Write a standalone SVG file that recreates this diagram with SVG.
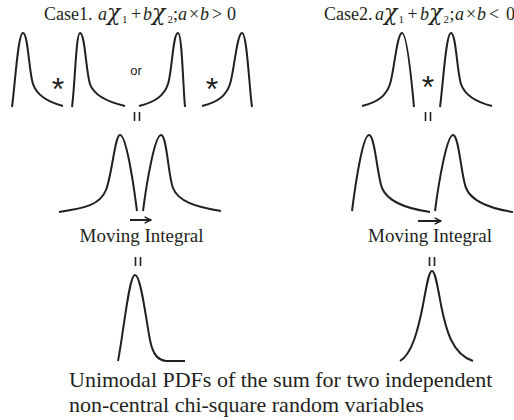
<svg xmlns="http://www.w3.org/2000/svg" width="514" height="420" viewBox="0 0 514 420">
<style>
.c{fill:none;stroke:#231f20;stroke-width:2;stroke-linecap:butt;stroke-linejoin:round}
.eq{stroke:#231f20;stroke-width:1.6}
.ar{fill:none;stroke:#231f20;stroke-width:2}
.t{font-family:"Liberation Serif","Times New Roman",serif;fill:#231f20}
.i{font-style:italic}
.chi{font-family:"DejaVu Serif","Liberation Serif",serif;font-style:italic;font-size:22px}
.sub{font-size:11px}
.s{font-family:"Liberation Sans",Arial,sans-serif;fill:#231f20}
</style>
<defs>
<marker id="ah" viewBox="0 0 10 10" refX="9" refY="5" markerWidth="8" markerHeight="8" markerUnits="userSpaceOnUse" orient="auto">
<path d="M1,1 L9,5 L1,9" fill="none" stroke="#231f20" stroke-width="1.8"/>
</marker>
</defs>
<g id="title1" class="t" font-size="18">
<text y="19.5"><tspan x="98" class="i">a</tspan><tspan x="44">Case1.</tspan><tspan x="107" class="chi">χ</tspan><tspan x="122" y="23" class="sub">1</tspan><tspan x="131" y="19.5">+</tspan><tspan x="143" class="i">b</tspan><tspan x="152" class="chi">χ</tspan><tspan x="167.5" y="23" class="sub">2</tspan><tspan x="173" y="19.5">;</tspan><tspan x="178" class="i">a</tspan><tspan x="189">×</tspan><tspan x="200" class="i">b</tspan><tspan x="212">&gt;</tspan><tspan x="227">0</tspan></text>
</g>
<g id="title2" class="t" font-size="18">
<text y="19.5"><tspan x="324">Case2.</tspan><tspan x="375" class="i">a</tspan><tspan x="384" class="chi">χ</tspan><tspan x="398.5" y="23" class="sub">1</tspan><tspan x="407.5" y="19.5">+</tspan><tspan x="420" class="i">b</tspan><tspan x="429" class="chi">χ</tspan><tspan x="443.5" y="23" class="sub">2</tspan><tspan x="449.5" y="19.5">;</tspan><tspan x="455" class="i">a</tspan><tspan x="466">×</tspan><tspan x="477" class="i">b</tspan><tspan x="489">&lt;</tspan><tspan x="506">0</tspan></text>
</g>
<g id="case1-inputs">
<path class="c" d="M12,107 C15,85 18,33 23,33 C28,33 29,72 33,84 C37,96 48,102 63,106"/>
<path class="c" d="M72,107 C75,85 76,33 80,33 C85,33 86,72 90,84 C94,96 108,102 125,106"/>
<path class="c" d="M139,106 C155,102 164,96 168,84 C172,72 173,33 178,33 C182,33 183,85 185,107"/>
<path class="c" d="M202,106 C218,102 226,96 230,84 C234,72 237,33 242,33 C247,33 249,85 252,107"/>
<text class="s" x="58" y="100" font-size="32" text-anchor="middle">*</text>
<text class="s" x="136" y="75" font-size="13" text-anchor="middle">or</text>
<text class="s" x="212" y="100" font-size="32" text-anchor="middle">*</text>
</g>
<g id="case2-inputs">
<path class="c" d="M362,106 C378,102 386,96 390,84 C394,72 397,33 402,33 C407,33 412,85 414,107"/>
<path class="c" d="M440,107 C443,85 446,33 451,33 C456,33 457,72 461,84 C465,96 476,102 492,106"/>
<text class="s" x="428" y="98" font-size="32" text-anchor="middle">*</text>
</g>
<g id="case1-moving">
<path class="c" d="M59,212 C85,208 100,205 106,190 C112,175 115,135 120,135 C126,135 133,180 137,211"/>
<path class="c" d="M143,211 C147,180 155,135 161,135 C167,135 168,175 173,188 C178,201 195,207 221,211"/>
<text class="t" x="141.5" y="242" font-size="19" text-anchor="middle">Moving Integral</text>
</g>
<g id="case2-moving">
<path class="c" d="M352,211 C356,180 363,135 369,135 C375,135 377,175 382,188 C387,200 402,208 430,212"/>
<path class="c" d="M435,211 C439,180 447,135 453,135 C459,135 461,175 466,188 C471,200 487,208 513,212"/>
<text class="t" x="430" y="242" font-size="19" text-anchor="middle">Moving Integral</text>
</g>
<g id="case1-result">
<path class="c" d="M118,361 C124,330 129,275 135,275 C141,275 146,320 150,340 C153,355 158,360 166,361 L185,361"/>
</g>
<g id="case2-result">
<path class="c" d="M400,361 C412,354 418,330 423,305 C427,283 429,271 432,271 C435,271 437,283 441,305 C446,330 452,354 473,361"/>
</g>
<g id="connectors">
<path class="eq" d="M134.5,112 V121 M139.5,112 V121"/>
<path class="eq" d="M425.5,112 V121 M430.5,112 V121"/>
<path class="eq" d="M135.5,257 V266 M140.5,257 V266"/>
<path class="eq" d="M429.5,257 V266 M434.5,257 V266"/>
<line class="ar" x1="130" y1="220" x2="151" y2="220" marker-end="url(#ah)"/>
<line class="ar" x1="418" y1="221" x2="441" y2="221" marker-end="url(#ah)"/>
</g>
<g id="caption" class="t" font-size="22">
<text x="69" y="387">Unimodal PDFs of the sum for two independent</text>
<text x="69" y="412">non-central chi-square random variables</text>
</g>
</svg>
